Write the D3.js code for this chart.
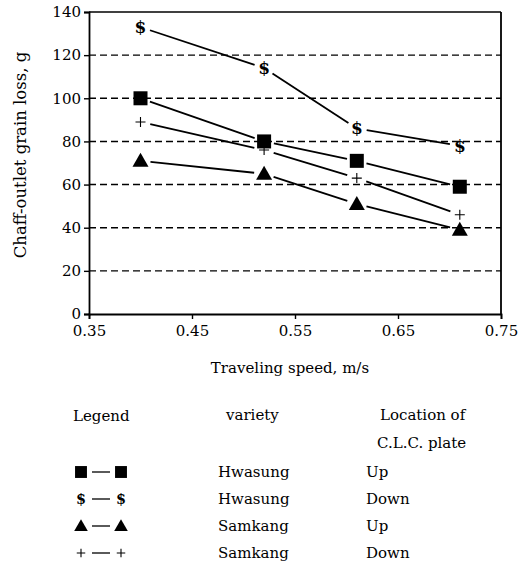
<!DOCTYPE html>
<html>
<head>
<meta charset="utf-8">
<script src="https://cdn.jsdelivr.net/npm/d3@7"></script>
<style>
  body { margin: 0; background: #fff; }
  svg text { font-family: "DejaVu Serif", "Liberation Serif", serif; fill: #000; }
</style>
</head>
<body>
<svg id="chart" width="527" height="569"></svg>
<script>
// data
const speeds = [0.40, 0.52, 0.61, 0.71];
const hwasungUp = [100, 80, 71, 59];
const hwasungDown = [133, 114, 86, 78];
const samkangUp = [71, 65, 51, 39];
const samkangDown = [89, 76, 63, 46];
const xTicks = [0.35, 0.45, 0.55, 0.65, 0.75];
const yTicks = [0, 20, 40, 60, 80, 100, 120, 140];
const gridValues = [20, 40, 60, 80, 100, 120];
const legendRows = [
  { symbol: 'square', variety: 'Hwasung', location: 'Up' },
  { symbol: 'dollar', variety: 'Hwasung', location: 'Down' },
  { symbol: 'triangle', variety: 'Samkang', location: 'Up' },
  { symbol: 'plus', variety: 'Samkang', location: 'Down' }
];

const series = [
  { symbol: 'square', values: hwasungUp },
  { symbol: 'dollar', values: hwasungDown },
  { symbol: 'triangle', values: samkangUp },
  { symbol: 'plus', values: samkangDown }
];

const svg = d3.select('#chart');
const plotLeft = 89, plotRight = 501, plotTop = 12, plotBottom = 314;
const serif = '"DejaVu Serif", serif';

const x = d3.scaleLinear().domain([0.35, 0.75]).range([plotLeft, plotRight]);
const y = d3.scaleLinear().domain([0, 140]).range([plotBottom, plotTop]);

// dashed grid
svg.append('g').selectAll('line')
  .data(gridValues)
  .enter().append('line')
  .attr('x1', plotLeft).attr('x2', plotRight)
  .attr('y1', d => y(d)).attr('y2', d => y(d))
  .attr('stroke', '#000')
  .attr('stroke-width', 1.4)
  .attr('stroke-dasharray', '7,4');

// axes
const yAxis = d3.axisLeft(y).tickValues(yTicks).tickSize(5).tickFormat(d3.format('d'));
const xAxis = d3.axisBottom(x).tickValues(xTicks).tickSize(5).tickFormat(d3.format('.2f'));

const gy = svg.append('g').attr('transform', `translate(${plotLeft},0)`).call(yAxis);
const gx = svg.append('g').attr('transform', `translate(0,${plotBottom})`).call(xAxis);
[gy, gx].forEach(g => {
  g.attr('font-family', serif).attr('font-size', 15);
  g.select('.domain').attr('stroke-width', 1.8);
  g.selectAll('.tick line').attr('stroke-width', 1.4);
  g.selectAll('.tick text').style('font-family', serif).style('font-size', '15px');
});
gy.selectAll('.tick text').attr('x', -8);
gx.selectAll('.tick text').attr('y', 11);

// right and top border
svg.append('line').attr('x1', plotRight).attr('x2', plotRight).attr('y1', plotTop).attr('y2', plotBottom)
  .attr('stroke', '#000').attr('stroke-width', 1.8);
svg.append('line').attr('x1', plotLeft).attr('x2', plotRight).attr('y1', plotTop).attr('y2', plotTop)
  .attr('stroke', '#000').attr('stroke-width', 1.6);

// axis titles
svg.append('text')
  .attr('x', 290).attr('y', 373)
  .attr('text-anchor', 'middle')
  .style('font-size', '15px')
  .text('Traveling speed, m/s');

svg.append('text')
  .attr('transform', 'translate(26,155) rotate(-90)')
  .attr('text-anchor', 'middle')
  .style('font-size', '16.5px')
  .text('Chaff-outlet grain loss, g');

function drawSymbol(g, type, cx, cy, scale) {
  const s = scale || 1;
  if (type === 'square') {
    g.append('rect')
      .attr('x', cx - 7 * s).attr('y', cy - 7 * s)
      .attr('width', 14 * s).attr('height', 14 * s)
      .attr('fill', '#000');
  } else if (type === 'triangle') {
    g.append('path')
      .attr('d', `M${cx},${cy - 8 * s}L${cx + 8 * s},${cy + 6 * s}L${cx - 8 * s},${cy + 6 * s}Z`)
      .attr('fill', '#000');
  } else if (type === 'plus') {
    g.append('path')
      .attr('d', `M${cx - 5 * s},${cy}H${cx + 5 * s}M${cx},${cy - 5 * s}V${cy + 5 * s}`)
      .attr('stroke', '#000').attr('stroke-width', 1.1);
  } else if (type === 'dollar') {
    g.append('text')
      .attr('x', cx).attr('y', cy + 6 * s)
      .attr('text-anchor', 'middle')
      .style('font-size', (17 * s) + 'px')
      .style('font-weight', 'bold')
      .style('fill', '#000')
      .text('$');
  }
}

// series: segments with gaps around markers
const gap = 10;
series.forEach(sr => {
  const pts = sr.values.map((v, i) => [x(speeds[i]), y(v)]);
  const g = svg.append('g');
  d3.pairs(pts).forEach(([a, b]) => {
    const dx = b[0] - a[0], dy = b[1] - a[1];
    const len = Math.hypot(dx, dy);
    const ux = dx / len, uy = dy / len;
    g.append('line')
      .attr('x1', a[0] + ux * gap).attr('y1', a[1] + uy * gap)
      .attr('x2', b[0] - ux * gap).attr('y2', b[1] - uy * gap)
      .attr('stroke', '#000').attr('stroke-width', 1.8);
  });
  pts.forEach(p => drawSymbol(g, sr.symbol, p[0], p[1]));
});

// legend table
const lg = svg.append('g').style('font-size', '15px');
lg.append('text').attr('x', 73).attr('y', 421).text('Legend');
lg.append('text').attr('x', 226).attr('y', 420).text('variety');
lg.append('text').attr('x', 380).attr('y', 420).text('Location of');
lg.append('text').attr('x', 377).attr('y', 448).text('C.L.C. plate');

const rowY = d3.scalePoint().domain(d3.range(legendRows.length)).range([477, 558]);
legendRows.forEach((r, i) => {
  const cy = rowY(i);
  const g = lg.append('g');
  drawSymbol(g, r.symbol, 81, cy - 5, 0.85);
  drawSymbol(g, r.symbol, 121, cy - 5, 0.85);
  g.append('line').attr('x1', 92).attr('x2', 110).attr('y1', cy - 5).attr('y2', cy - 5)
    .attr('stroke', '#000').attr('stroke-width', 1.3);
  g.append('text').attr('x', 218).attr('y', cy).text(r.variety);
  g.append('text').attr('x', 366).attr('y', cy).text(r.location);
});
</script>
</body>
</html>
